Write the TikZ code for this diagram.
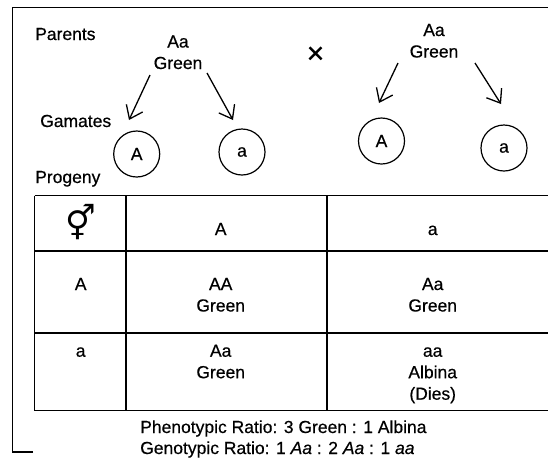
\documentclass[tikz,border=0pt]{standalone}
\usepackage{fontspec}
\setmainfont{Liberation Sans}[FakeBold=0.5]
\newfontfamily\symfont{DejaVu Sans}
\usetikzlibrary{arrows.meta}
\begin{document}
\begin{tikzpicture}[x=1pt,y=-1pt,
  lbl/.style={font=\fontsize{17.5}{21.5}\selectfont, inner sep=0pt, anchor=base},
  lblw/.style={lbl, anchor=base west},
  cell/.style={lbl, align=center},
  gam/.style={circle, draw, line width=1.2pt, minimum size=46pt, inner sep=0pt, font=\fontsize{17.5}{21.5}\selectfont},
  arr/.style={line width=1.3pt, -{Straight Barb[length=12pt,width=18pt,line width=1.3pt]}},
  gridline/.style={line width=1.2pt},
  framestyle/.style={line width=1.8pt}]
\useasboundingbox (0,0) rectangle (548,459);
% frame
\coordinate (f1) at (33,452);
\coordinate (f2) at (12.5,452);
\coordinate (f3) at (12.5,7.5);
\coordinate (f4) at (548,7.5);
\draw[framestyle] (f1) -- (f2) -- (f3) -- (f4);
% labels
\node[lblw] (parents) at (35,40) {Parents};
\node[lblw] (gamates) at (40,127) {Gamates};
\node[lblw] (progeny) at (35,183) {Progeny};
\node[cell] (p1) at (178,69) {Aa\\Green};
\node[cell] (p2) at (434,57.5) {Aa\\Green};
\node[lbl, anchor=center, font=\fontsize{30}{30}\selectfont] (cross) at (315.5,55) {×};
% gametes
\node[gam] (gA1) at (136.7,154) {A};
\node[gam] (ga1) at (242,152) {a};
\node[gam] (gA2) at (381.5,141) {A};
\node[gam] (ga2) at (504,148) {a};
% arrows
\coordinate (s1) at (150,75);  \coordinate (e1) at (129,120);
\coordinate (s2) at (207,73);  \coordinate (e2) at (233,120);
\coordinate (s3) at (398,63);  \coordinate (e3) at (379,103);
\coordinate (s4) at (475,63);  \coordinate (e4) at (501,104);
\draw[arr] (s1) -- (e1);
\draw[arr] (s2) -- (e2);
\draw[arr] (s3) -- (e3);
\draw[arr] (s4) -- (e4);
% table grid
\coordinate (t00) at (34.5,195.5);
\coordinate (t01) at (548,195.5);
\coordinate (t10) at (34.5,251);
\coordinate (t11) at (548,251);
\coordinate (t20) at (34.5,333);
\coordinate (t21) at (548,333);
\coordinate (t30) at (34.5,410.5);
\coordinate (t31) at (548,410.5);
\coordinate (c1a) at (126,195.5);
\coordinate (c1b) at (126,410.5);
\coordinate (c2a) at (327,195.5);
\coordinate (c2b) at (327,410.5);
\draw[gridline] (t00) -- (t01);
\draw[gridline] (t10) -- (t11);
\draw[gridline] (t20) -- (t21);
\draw[gridline] (t30) -- (t31);
\draw[gridline] (t00) -- (t30);
\draw[gridline] (c1a) -- (c1b);
\draw[gridline] (c2a) -- (c2b);
% table contents
\node[lbl, anchor=center, font=\symfont\fontsize{34}{34}\selectfont] (sym) at (81,222) {⚥};
\node[cell] (hA) at (220.7,235) {A};
\node[cell] (ha) at (432.7,235) {a};
\node[cell] (rA) at (80.7,290) {A};
\node[cell] (AA) at (220.7,311.5) {AA\\Green};
\node[cell] (Aa1) at (432.7,311.5) {Aa\\Green};
\node[cell] (ra) at (80.7,356.7) {a};
\node[cell] (Aa2) at (220.7,378.2) {Aa\\Green};
\node[cell] (aa) at (432.7,399.7) {aa\\Albina\\(Dies)};
% ratios
\node[lblw] (pheno) at (140,433) {Phenotypic Ratio: 3 Green : 1 Albina};
\node[lblw] (geno) at (140,454) {Genotypic Ratio: 1 \textit{Aa} : 2 \textit{Aa} : 1 \textit{aa}};
\end{tikzpicture}
\end{document}
